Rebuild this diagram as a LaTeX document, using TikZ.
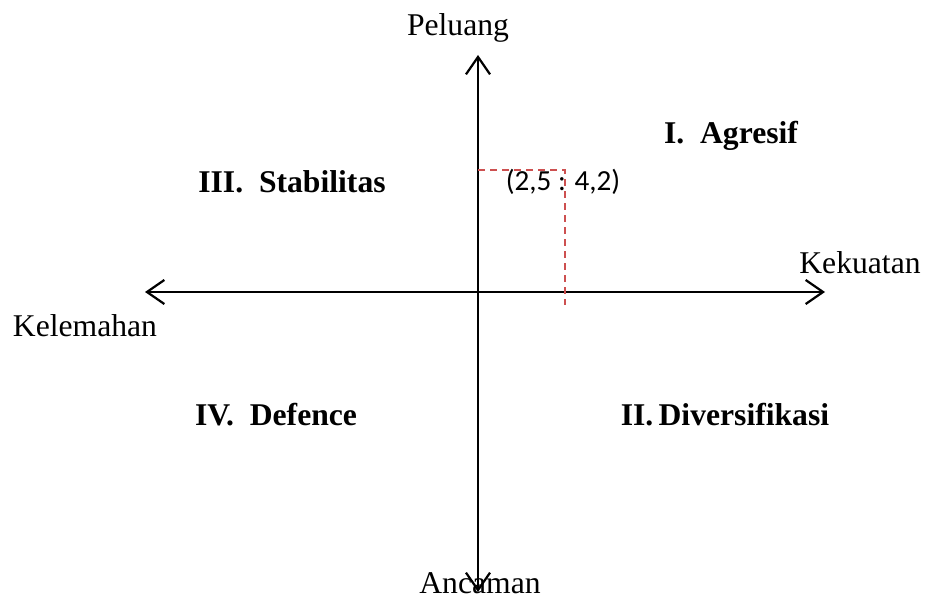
\documentclass[tikz,border=0pt]{standalone}
\usepackage{fontspec}
\setmainfont{Liberation Serif}
\newfontfamily\calibri{Carlito}
\usetikzlibrary{arrows.meta}
\definecolor{dashred}{RGB}{205,80,80}
\begin{document}
\begin{tikzpicture}[x=0.316pt, y=-0.316pt,
    axis/.style={line width=0.7pt, {Straight Barb[length=5.5pt,width=7.6pt]}-{Straight Barb[length=5.5pt,width=7.6pt]}},
    quad/.style={font=\bfseries, inner sep=0pt},
    lbl/.style={inner sep=0pt}]
    \useasboundingbox (0,0) rectangle (925,603);
    % Axes
    \coordinate (top) at (478,55);
    \coordinate (bottom) at (478,592);
    \coordinate (left) at (145,292);
    \coordinate (right) at (825,292);
    \draw[axis] (bottom) -- (top);
    \draw[axis] (left) -- (right);
    % Axis labels
    \node[lbl] (peluang) at (458,28) {Peluang};
    \node[lbl] (kekuatan) at (860,263) {Kekuatan};
    \node[lbl] (kelemahan) at (85,326) {Kelemahan};
    \node[lbl] (ancaman) at (480,583) {Ancaman};
    % Position point
    \coordinate (py) at (478,170);
    \coordinate (pt) at (565,170);
    \coordinate (px) at (565,305);
    \draw[dashred, dash pattern=on 2.2pt off 1.6pt, line width=0.45pt] (py) -- (pt) -- (px);
    \node[lbl, font=\calibri\fontsize{9.2}{11}\selectfont] (posisi) at (563,182) {(2,5 : 4,2)};
    % Quadrants
    \node[quad] (agresif) at (731,136) {I.\ \ Agresif};
    \node[quad] (stabilitas) at (292,182) {III.\ \ Stabilitas};
    \node[quad] (defence) at (276,415) {IV.\ \ Defence};
    \node[quad] (diversifikasi) at (725,415) {II.\,Diversifikasi};
\end{tikzpicture}
\end{document}
